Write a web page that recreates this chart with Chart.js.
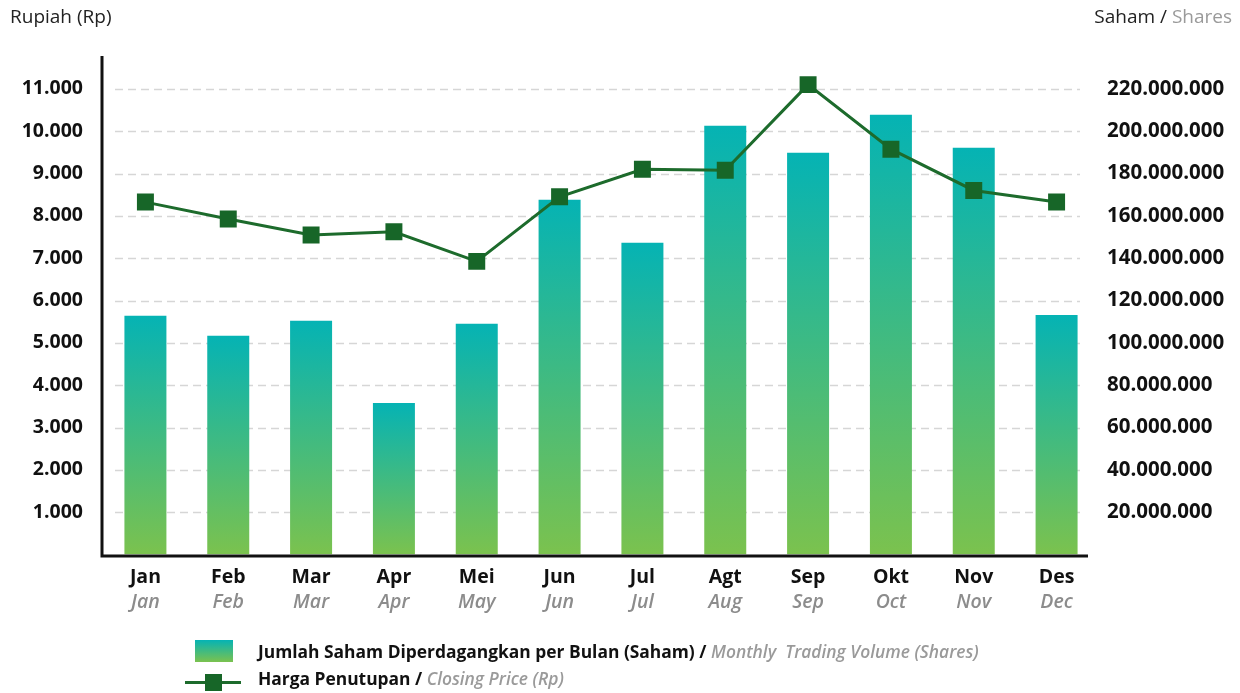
<!DOCTYPE html>
<html>
<head>
<meta charset="utf-8">
<script src="https://cdn.jsdelivr.net/npm/chart.js@4.4.1/dist/chart.umd.min.js"></script>
<style>
  body { margin: 0; background: #fff; }
  #wrap { position: relative; width: 1240px; height: 693px; font-family: 'Open Sans', sans-serif; overflow: hidden; }
  #c { position: absolute; left: 0; top: 0; }
  .ttl { position: absolute; top: 3px; font-size: 19px; color: #222; white-space: nowrap; }
  .gray { color: #9a9a9a; }
  .leg { position: absolute; left: 258px; font-size: 17.4px; font-weight: 700; color: #111; white-space: nowrap; line-height: 22px; }
  .leg i { font-weight: 600; color: #9a9a9a; }
  #box { position: absolute; left: 195px; top: 640px; width: 38px; height: 22px; background: linear-gradient(#05b3b4, #7bc24e); }
  #lline { position: absolute; left: 185px; top: 681px; width: 56px; height: 3px; background: #1d6b2c; }
  #lsq { position: absolute; left: 205px; top: 674px; width: 17px; height: 17px; background: #176628; }
</style>
</head>
<body>
<div id="wrap">
  <canvas id="c" width="1240" height="693"></canvas>
  <div class="ttl" style="left:10px;">Rupiah (Rp)</div>
  <div class="ttl" style="right:8px;">Saham / <span class="gray">Shares</span></div>
  <div id="box"></div>
  <div class="leg" style="top:640px;">Jumlah Saham Diperdagangkan per Bulan (Saham) / <i>Monthly&nbsp; Trading Volume (Shares)</i></div>
  <div id="lline"></div><div id="lsq"></div>
  <div class="leg" style="top:667px;">Harga Penutupan / <i>Closing Price (Rp)</i></div>
</div>
<script>
// ---- data ----
const months   = ['Jan','Feb','Mar','Apr','Mei','Jun','Jul','Agt','Sep','Okt','Nov','Des'];
const monthsEn = ['Jan','Feb','Mar','Apr','May','Jun','Jul','Aug','Sep','Oct','Nov','Dec'];
const volume   = [112.8e6, 103.3e6, 110.4e6, 71.6e6, 109.0e6, 167.6e6, 147.3e6, 202.6e6, 189.8e6, 207.8e6, 192.2e6, 113.2e6];
const closing  = [8325, 7925, 7550, 7625, 6925, 8450, 9100, 9075, 11100, 9575, 8600, 8325];
const leftTicks  = [1000,2000,3000,4000,5000,6000,7000,8000,9000,10000,11000];
const rightTicks = [20e6,40e6,60e6,80e6,100e6,120e6,140e6,160e6,180e6,200e6,220e6];

const fmt = v => String(Math.round(v)).replace(/\B(?=(\d{3})+(?!\d))/g, '.');
const FONT = "'Open Sans', sans-serif";

const decor = {
  id: 'decor',
  beforeDatasetsDraw(chart) {
    const c = chart.ctx, y = chart.scales.y;
    c.save();
    c.strokeStyle = '#d6d6d6'; c.lineWidth = 1.5; c.setLineDash([8, 5]);
    leftTicks.forEach(v => {
      const py = Math.round(y.getPixelForValue(v)) + 0.5;
      c.beginPath(); c.moveTo(115, py); c.lineTo(1080, py); c.stroke();
    });
    c.restore();
  },
  afterDatasetsDraw(chart) {
    const c = chart.ctx, a = chart.chartArea;
    c.save();
    c.strokeStyle = '#111'; c.lineWidth = 3; c.setLineDash([]);
    c.beginPath(); c.moveTo(102, 56); c.lineTo(102, a.bottom + 1.5); c.lineTo(1088, a.bottom + 1.5); c.stroke();
    c.restore();
  }
};

new Chart(document.getElementById('c'), {
  data: {
    labels: months,
    datasets: [
      {
        type: 'line', label: 'Harga Penutupan', data: closing, yAxisID: 'y', xAxisID: 'x', order: 0,
        borderColor: '#1d6b2c', borderWidth: 3, tension: 0,
        pointStyle: 'rect', pointRadius: 12, pointHoverRadius: 12,
        pointBackgroundColor: '#176628', pointBorderWidth: 0
      },
      {
        type: 'bar', label: 'Jumlah Saham', data: volume, yAxisID: 'y1', xAxisID: 'x', order: 1,
        categoryPercentage: 1, barPercentage: 0.507,
        backgroundColor: ctx => {
          const s = ctx.chart.scales.y1;
          if (!s || ctx.type !== 'data') return '#3db59a';
          const top = s.getPixelForValue(ctx.raw), base = s.getPixelForValue(0);
          if (!isFinite(top) || !isFinite(base) || top === base) return '#3db59a';
          const g = ctx.chart.ctx.createLinearGradient(0, top, 0, base);
          g.addColorStop(0, '#05b3b4'); g.addColorStop(1, '#7bc24e');
          return g;
        }
      }
    ]
  },
  options: {
    responsive: false, animation: false, devicePixelRatio: 1,
    layout: { padding: { top: 55, left: 0, right: 0, bottom: 0 } },
    plugins: { legend: { display: false }, tooltip: { enabled: false } },
    scales: {
      x: {
        type: 'category', labels: months, position: 'bottom', offset: true, weight: 0,
        grid: { display: false, drawTicks: false }, border: { display: false },
        ticks: { color: '#111', font: { family: FONT, size: 19.5, weight: '700' }, padding: 11, maxRotation: 0, autoSkip: false },
        afterFit: s => { s.height = 34; }
      },
      x2: {
        type: 'category', labels: monthsEn, position: 'bottom', offset: true, weight: 1,
        grid: { display: false, drawTicks: false }, border: { display: false },
        ticks: { color: '#8c8c8c', font: { family: FONT, size: 19.5, weight: '600', style: 'italic' }, padding: 2.5, maxRotation: 0, autoSkip: false },
        afterFit: s => { s.height = 104.5; }
      },
      y: {
        position: 'left', min: 0, max: 11800,
        afterBuildTicks: s => { s.ticks = leftTicks.map(v => ({ value: v })); },
        grid: { display: false, drawTicks: false }, border: { display: false },
        ticks: { color: '#111', font: { family: FONT, size: 19.5, weight: '700' }, padding: 21, callback: v => fmt(v) },
        afterFit: s => { s.width = 104; }
      },
      y1: {
        position: 'right', min: 0, max: 236e6,
        afterBuildTicks: s => { s.ticks = rightTicks.map(v => ({ value: v })); },
        grid: { display: false, drawTicks: false }, border: { display: false },
        ticks: { color: '#111', font: { family: FONT, size: 20.5, weight: '700' }, padding: 9, callback: v => fmt(v) },
        afterFit: s => { s.width = 142; }
      }
    }
  },
  plugins: [decor]
});
</script>
</body>
</html>
